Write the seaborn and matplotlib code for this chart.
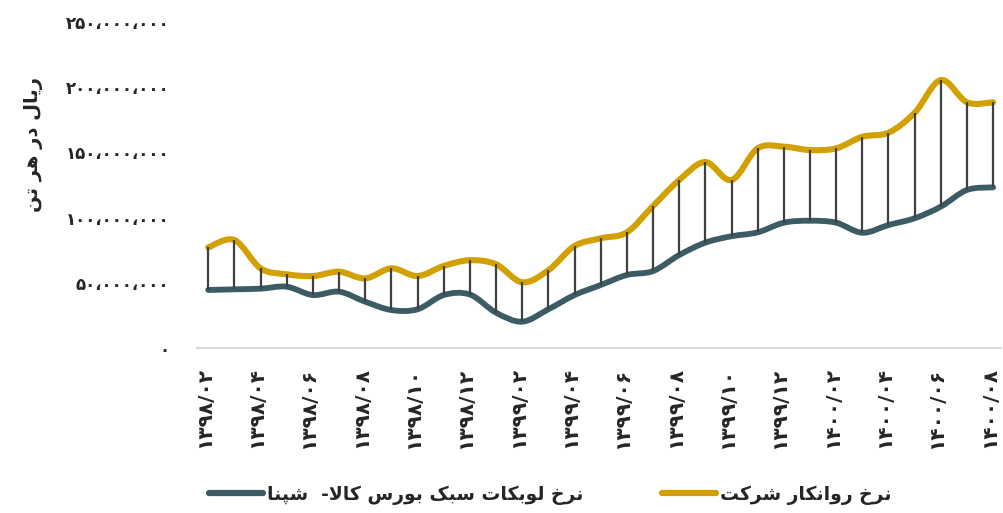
import numpy as np
import matplotlib
matplotlib.use("Agg")
import matplotlib.pyplot as plt
import matplotlib.transforms as mtransforms
from matplotlib.path import Path
from matplotlib.patches import PathPatch
from matplotlib.lines import Line2D
from matplotlib.ticker import FuncFormatter, FixedLocator
import seaborn as sns

# --- data (rials per tonne) ---
months = ["۱۳۹۸/۰۲", "۱۳۹۸/۰۳", "۱۳۹۸/۰۴", "۱۳۹۸/۰۵", "۱۳۹۸/۰۶", "۱۳۹۸/۰۷",
          "۱۳۹۸/۰۸", "۱۳۹۸/۰۹", "۱۳۹۸/۱۰", "۱۳۹۸/۱۱", "۱۳۹۸/۱۲",
          "۱۳۹۹/۰۱", "۱۳۹۹/۰۲", "۱۳۹۹/۰۳", "۱۳۹۹/۰۴", "۱۳۹۹/۰۵", "۱۳۹۹/۰۶",
          "۱۳۹۹/۰۷", "۱۳۹۹/۰۸", "۱۳۹۹/۰۹", "۱۳۹۹/۱۰", "۱۳۹۹/۱۱", "۱۳۹۹/۱۲",
          "۱۴۰۰/۰۱", "۱۴۰۰/۰۲", "۱۴۰۰/۰۳", "۱۴۰۰/۰۴", "۱۴۰۰/۰۵", "۱۴۰۰/۰۶",
          "۱۴۰۰/۰۷", "۱۴۰۰/۰۸"]

company_rate = [77.2, 82.8, 61.1, 56.5, 55.2, 58.5, 53.4, 61.1, 55.2, 62.9, 67.3,
                64.2, 50.4, 59.6, 78.2, 84.1, 88.7, 108.9, 128.8, 142.6, 128.8,
                153.1, 154.4, 151.8, 153.1, 162.0, 165.1, 180.4, 205.5, 188.4, 188.4]
bourse_rate = [44.5, 45.0, 45.5, 47.0, 40.6, 43.2, 35.5, 29.1, 29.7, 40.6, 41.0,
               27.1, 20.2, 29.7, 40.6, 48.3, 56.0, 59.0, 71.3, 80.8, 85.7,
               88.7, 96.1, 97.6, 96.1, 88.4, 94.3, 99.5, 108.4, 121.2, 123.2]
company_rate = np.array(company_rate) * 1e6
bourse_rate = np.array(bourse_rate) * 1e6

yticks = [0, 50e6, 100e6, 150e6, 200e6, 250e6]

ylabel = "ریال در هر تن"
label_bourse = "نرخ لوبکات سبک بورس کالا-  شپنا"
label_company = "نرخ روانکار شرکت"

gold = "#D2A000"
teal = "#3C5C65"

# --- simple Persian shaping (matplotlib has no bidi / joining) ---
FORMS = {
    "ا": ("\uFE8D", "\uFE8E"), "د": ("\uFEA9", "\uFEAA"), "ر": ("\uFEAD", "\uFEAE"),
    "و": ("\uFEED", "\uFEEE"),
    "ب": ("\uFE8F", "\uFE90", "\uFE91", "\uFE92"), "پ": ("\uFB56", "\uFB57", "\uFB58", "\uFB59"),
    "ت": ("\uFE95", "\uFE96", "\uFE97", "\uFE98"), "خ": ("\uFEA5", "\uFEA6", "\uFEA7", "\uFEA8"),
    "س": ("\uFEB1", "\uFEB2", "\uFEB3", "\uFEB4"), "ش": ("\uFEB5", "\uFEB6", "\uFEB7", "\uFEB8"),
    "ک": ("\uFB8E", "\uFB8F", "\uFB90", "\uFB91"), "ل": ("\uFEDD", "\uFEDE", "\uFEDF", "\uFEE0"),
    "ن": ("\uFEE5", "\uFEE6", "\uFEE7", "\uFEE8"), "ه": ("\uFEE9", "\uFEEA", "\uFEEB", "\uFEEC"),
    "ی": ("\uFBFC", "\uFBFD", "\uFBFE", "\uFBFF"),
}


def fa(s):
    out = []
    chars = list(s)
    i = 0
    while i < len(chars):
        c = chars[i]
        if c not in FORMS:
            out.append(c)
            i += 1
            continue
        prev = chars[i - 1] if i > 0 else ""
        prev_joins = prev in FORMS and len(FORMS[prev]) == 4
        if c == "ل" and i + 1 < len(chars) and chars[i + 1] == "ا":
            out.append("\uFEFC" if prev_joins else "\uFEFB")
            i += 2
            continue
        nxt = chars[i + 1] if i + 1 < len(chars) else ""
        f = FORMS[c]
        next_joins = len(f) == 4 and nxt in FORMS
        if prev_joins and next_joins:
            out.append(f[3])
        elif prev_joins:
            out.append(f[1])
        elif next_joins:
            out.append(f[2])
        else:
            out.append(f[0])
        i += 1
    return "".join(out[::-1])


def fa_digits(v, pos=None):
    s = f"{int(round(v)):,}"
    return s.translate(str.maketrans("0123456789,", "۰۱۲۳۴۵۶۷۸۹،"))


def smooth_path(x, y):
    # catmull-rom style bezier through the data points (like Excel smoothed lines)
    pts = np.column_stack([x, y])
    verts = [pts[0]]
    codes = [Path.MOVETO]
    n = len(pts)
    for i in range(n - 1):
        p0 = pts[i - 1] if i > 0 else pts[i]
        p1 = pts[i]
        p2 = pts[i + 1]
        p3 = pts[i + 2] if i + 2 < n else pts[i + 1]
        verts += [p1 + (p2 - p0) / 6, p2 - (p3 - p1) / 6, p2]
        codes += [Path.CURVE4] * 3
    return Path(verts, codes)


sns.set_theme(style="white")
plt.rcParams["font.family"] = ["DejaVu Sans"]

fig = plt.figure(figsize=(10.04, 5.13), dpi=100)
ax = fig.add_axes([197 / 1004, 1 - 348 / 513, 804 / 1004, 326 / 513])

x = np.arange(len(months))
ax.add_patch(PathPatch(smooth_path(x, bourse_rate), fill=False, ec=teal, lw=4.2,
                       capstyle="round", joinstyle="round", zorder=2))
ax.add_patch(PathPatch(smooth_path(x, company_rate), fill=False, ec=gold, lw=4.4,
                       capstyle="round", joinstyle="round", zorder=2))
ax.vlines(x, bourse_rate, company_rate, color="#404040", lw=1.6, zorder=3)

ax.set_xlim(-0.43, 30.3)
ax.set_ylim(0, 250e6)
ax.yaxis.set_major_locator(FixedLocator(yticks))
ax.yaxis.set_major_formatter(FuncFormatter(fa_digits))
ax.set_xticks(x[::2])
ax.set_xticklabels(months[::2], rotation=90, fontweight="bold", fontsize=14.5)
ax.tick_params(axis="x", length=0, pad=14)
ax.tick_params(axis="y", length=0, pad=20, labelsize=12)
for t in ax.get_yticklabels():
    t.set_fontweight("bold")
# labels sit a touch left of their ticks in the original
shift = mtransforms.ScaledTranslation(-4 / 100, 0, fig.dpi_scale_trans)
for t in ax.get_xticklabels():
    t.set_transform(t.get_transform() + shift)

sns.despine(ax=ax, left=True)
ax.spines["bottom"].set_color("#D9D9D9")
ax.spines["bottom"].set_linewidth(1.5)

fig.text(0.033, 1 - 145 / 513, fa(ylabel), rotation=90, fontsize=14, fontweight="bold",
         ha="center", va="center")

handles = [Line2D([], [], color=teal, lw=4.5, solid_capstyle="round"),
           Line2D([], [], color=gold, lw=4.5, solid_capstyle="round")]
fig.legend(handles, [fa(label_bourse), fa(label_company)], loc="center",
           bbox_to_anchor=(0.548, 1 - 495 / 513), ncol=2, frameon=False,
           prop={"size": 13.5, "weight": "bold"}, handlelength=2.9,
           columnspacing=4.2, handletextpad=0.2)

fig.savefig("out.png", dpi=100)
